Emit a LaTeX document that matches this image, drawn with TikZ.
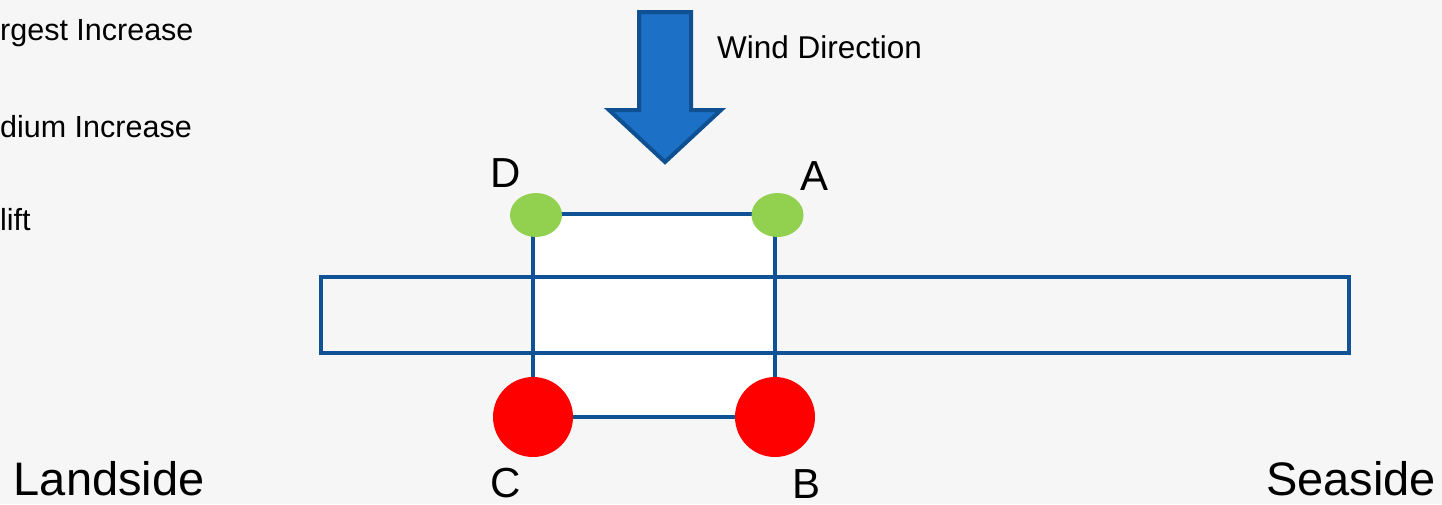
\documentclass[tikz,border=0pt]{standalone}
\usepackage{fontspec}
\setmainfont{Liberation Sans}
\definecolor{bgray}{RGB}{246,246,246}
\definecolor{frameblue}{RGB}{16,82,150}
\definecolor{arrowfill}{RGB}{28,112,198}
\definecolor{arrowedge}{RGB}{14,80,146}
\definecolor{leafgreen}{RGB}{146,208,80}
\tikzset{
  legendtxt/.style={anchor=base west, inner sep=0pt, font=\fontsize{30.5}{36}\selectfont},
  windtxt/.style={anchor=base west, inner sep=0pt, font=\fontsize{31.5}{37}\selectfont},
  sidetxt/.style={anchor=base west, inner sep=0pt, font=\fontsize{47}{55}\selectfont},
  cornertxt/.style={anchor=base west, inner sep=0pt, font=\fontsize{42}{50}\selectfont},
  beam/.style={draw=frameblue, line width=4.5pt},
  lowpt/.style={circle, fill=red, minimum size=80pt, inner sep=0pt},
  highpt/.style={ellipse, fill=leafgreen, minimum width=52pt, minimum height=44pt, inner sep=0pt},
}
\usetikzlibrary{shapes.geometric}
\begin{document}
\begin{tikzpicture}[x=1pt,y=-1pt]
  \useasboundingbox (0,0) rectangle (1442,504);
  \fill[bgray] (0,0) rectangle (1442,504);

  % legend entries (left edge of the slide)
  \node[legendtxt] (leg1) at (0,40) {rgest Increase};
  \node[legendtxt] (leg2) at (0,137) {dium Increase};
  \node[legendtxt] (leg3) at (0,230) {lift};

  % wind arrow
  \filldraw[fill=arrowfill, draw=arrowedge, line width=4pt, line join=miter]
    (639,12) -- (691,12) -- (691,110) -- (721,110) -- (665,162) -- (609,110) -- (639,110) -- cycle;
  \node[windtxt] (wind) at (717,58) {Wind Direction};

  % corner points
  \coordinate (pD) at (533,214);
  \coordinate (pA) at (775,214);
  \coordinate (pC) at (533,417);
  \coordinate (pB) at (775,417);

  % white panel between the corners
  \fill[white] (pD) rectangle (pB);

  % long horizontal band
  \draw[beam] (321,277) rectangle (1349,353);

  % frame edges
  \draw[beam] (pD) -- (pA);
  \draw[beam] (pD) -- (pC);
  \draw[beam] (pA) -- (pB);
  \draw[beam] (pC) -- (pB);

  % markers
  \node[highpt] (D) at (536,215) {};
  \node[highpt] (A) at (777.5,215) {};
  \node[lowpt] (C) at (533,417) {};
  \node[lowpt] (B) at (775,417) {};

  % corner labels
  \node[cornertxt] (labD) at (490,187) {D};
  \node[cornertxt] (labA) at (800,190) {A};
  \node[cornertxt] (labC) at (490,497) {C};
  \node[cornertxt] (labB) at (792,498) {B};

  % side labels
  \node[sidetxt] (land) at (13.6,495) {Landside};
  \node[sidetxt] (sea) at (1266,495) {Seaside};
\end{tikzpicture}
\end{document}
